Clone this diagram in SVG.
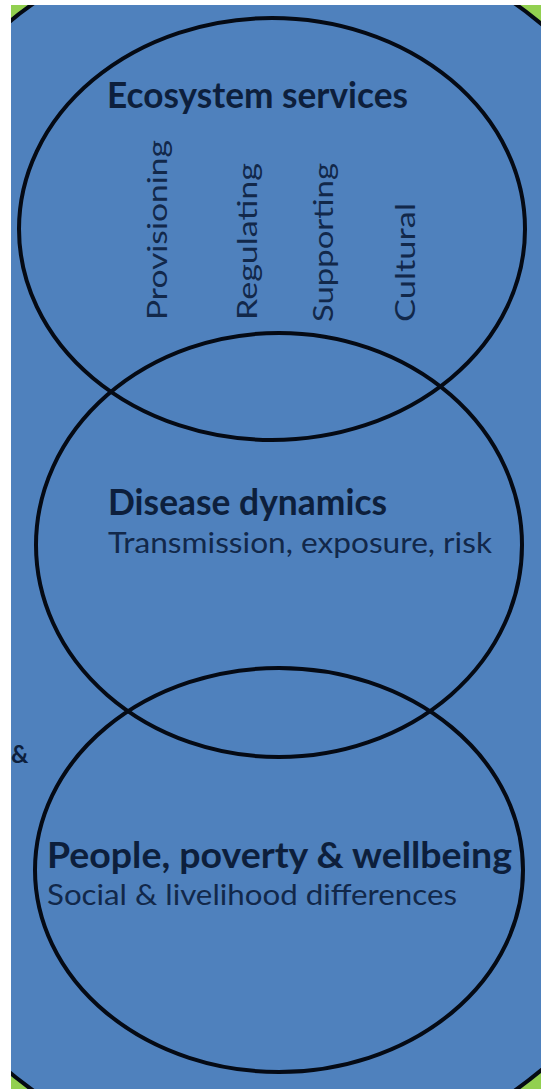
<svg xmlns="http://www.w3.org/2000/svg" width="541" height="1089" viewBox="0 0 541 1089">
<style>
.ring{fill:none;stroke:#050a14;stroke-width:4}
.h{font-family:Lato,"Open Sans",sans-serif;font-weight:bold;fill:#0d1f3c}
.s{font-family:Lato,"Open Sans",sans-serif;fill:#12284a}
</style>
<rect x="0" y="0" width="541" height="1089" fill="#92d050"/>
<ellipse cx="274" cy="547" rx="490" ry="624" fill="#4f81bd" stroke="#050a14" stroke-width="4"/>
<rect x="0" y="0" width="11" height="1089" fill="#ffffff"/>
<rect x="0" y="0" width="541" height="5" fill="#ffffff"/>
<text class="h" x="11" y="763" font-size="24">&amp;</text>
<g id="ecosystem">
<ellipse class="ring" cx="272" cy="229" rx="253" ry="211"/>
<text class="h" x="107" y="108" font-size="36" textLength="301" lengthAdjust="spacingAndGlyphs">Ecosystem services</text>
<text class="s" font-size="26" transform="translate(167,320) rotate(-90)" textLength="180" lengthAdjust="spacingAndGlyphs">Provisioning</text>
<text class="s" font-size="26" transform="translate(257,320) rotate(-90)" textLength="157" lengthAdjust="spacingAndGlyphs">Regulating</text>
<text class="s" font-size="26" transform="translate(333,322) rotate(-90)" textLength="159" lengthAdjust="spacingAndGlyphs">Supporting</text>
<text class="s" font-size="26" transform="translate(415,322) rotate(-90)" textLength="119" lengthAdjust="spacingAndGlyphs">Cultural</text>
</g>
<g id="disease">
<ellipse class="ring" cx="279" cy="545" rx="243" ry="212"/>
<text class="h" x="108" y="515" font-size="36" textLength="279" lengthAdjust="spacingAndGlyphs">Disease dynamics</text>
<text class="s" x="108" y="553" font-size="28" textLength="384" lengthAdjust="spacingAndGlyphs">Transmission, exposure, risk</text>
</g>
<g id="people">
<ellipse class="ring" cx="279" cy="870" rx="244" ry="202"/>
<text class="h" x="47" y="868" font-size="36" textLength="465" lengthAdjust="spacingAndGlyphs">People, poverty &amp; wellbeing</text>
<text class="s" x="47" y="905" font-size="28" textLength="410" lengthAdjust="spacingAndGlyphs">Social &amp; livelihood differences</text>
</g>
<g id="connectors"/>
</svg>
